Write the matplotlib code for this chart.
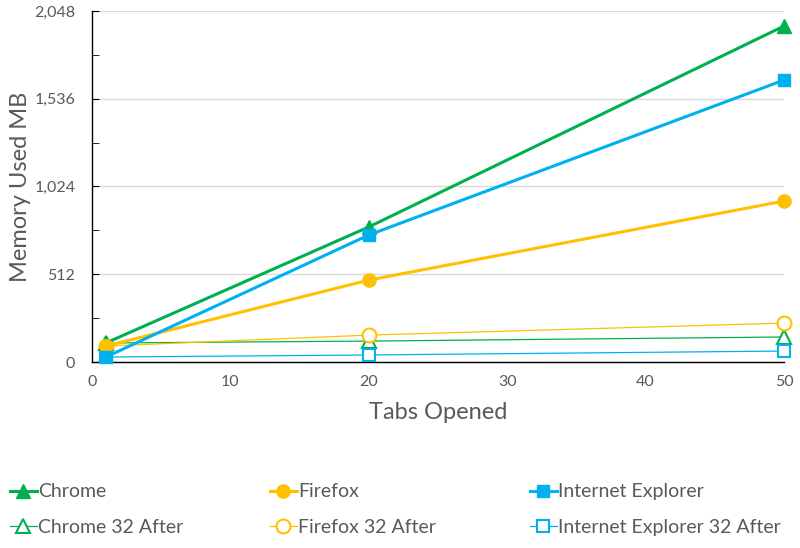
import matplotlib
matplotlib.use("Agg")
import matplotlib.pyplot as plt
from matplotlib.ticker import MultipleLocator, FuncFormatter

tabs = [1, 20, 50]
chrome = [111, 788, 1960]
firefox = [93, 478, 939]
ie = [29, 741, 1645]
chrome_after = [111, 122, 146]
firefox_after = [93, 157, 227]
ie_after = [29, 41, 64]

GREEN = "#00B050"
ORANGE = "#FFC000"
BLUE = "#00B0F0"
TXT = "#595959"

plt.rcParams['font.family'] = ['Lato', 'DejaVu Sans']

fig = plt.figure(figsize=(8, 5.48), dpi=100)
ax = fig.add_axes([0.115, 0.3394, 0.865, 0.6406])

h_c, = ax.plot(tabs, chrome, color=GREEN, lw=2.2, marker='^', ms=10, label='Chrome', clip_on=False, zorder=5)
h_f, = ax.plot(tabs, firefox, color=ORANGE, lw=2.2, marker='o', ms=9.5, label='Firefox', clip_on=False, zorder=5)
h_i, = ax.plot(tabs, ie, color=BLUE, lw=2.2, marker='s', ms=8, label='Internet Explorer', clip_on=False, zorder=5)
h_ca, = ax.plot(tabs, chrome_after, color=GREEN, lw=0.9, marker='^', ms=10, mfc='white', mew=1.5,
                label='Chrome 32 After', clip_on=False, zorder=4)
h_fa, = ax.plot(tabs, firefox_after, color=ORANGE, lw=0.9, marker='o', ms=10, mfc='white', mew=1.5,
                label='Firefox 32 After', clip_on=False, zorder=4)
h_ia, = ax.plot(tabs, ie_after, color=BLUE, lw=0.9, marker='s', ms=9, mfc='white', mew=1.5,
                label='Internet Explorer 32 After', clip_on=False, zorder=4)

ax.set_xlim(0, 50)
ax.set_ylim(0, 2048)
ax.yaxis.set_major_locator(MultipleLocator(512))
ax.yaxis.set_minor_locator(MultipleLocator(256))
ax.xaxis.set_major_locator(MultipleLocator(10))
ax.yaxis.set_major_formatter(FuncFormatter(lambda v, p: f"{int(v):,}"))
ax.grid(axis='y', which='major', color='#D9D9D9', lw=1)
ax.set_axisbelow(True)
for s in ['top', 'right']:
    ax.spines[s].set_visible(False)
for s in ['left', 'bottom']:
    ax.spines[s].set_color('black')
    ax.spines[s].set_linewidth(1.0)
ax.tick_params(axis='y', which='both', direction='in', length=5, color='black', labelcolor=TXT, labelsize=11.5, pad=12)
ax.tick_params(axis='x', which='both', length=0, labelcolor=TXT, labelsize=11.5, pad=9)
ax.set_ylabel('Memory Used MB', fontsize=17, color=TXT)
ax.yaxis.set_label_coords(-0.088, 0.5)
ax.set_xlabel('Tabs Opened', fontsize=17, color=TXT, labelpad=10)

groups = [(h_c, h_ca, 0.012), (h_f, h_fa, 0.337), (h_i, h_ia, 0.662)]
for a, b, x0 in groups:
    leg = fig.legend(handles=[a, b], labels=[a.get_label(), b.get_label()], ncol=1,
                     loc='upper left', bbox_to_anchor=(x0, 0.118), frameon=False,
                     fontsize=14, handlelength=1.4, handletextpad=0.05,
                     labelspacing=0.95, borderaxespad=0, borderpad=0)
    for t in leg.get_texts():
        t.set_color(TXT)

fig.savefig('out.png', dpi=100)
